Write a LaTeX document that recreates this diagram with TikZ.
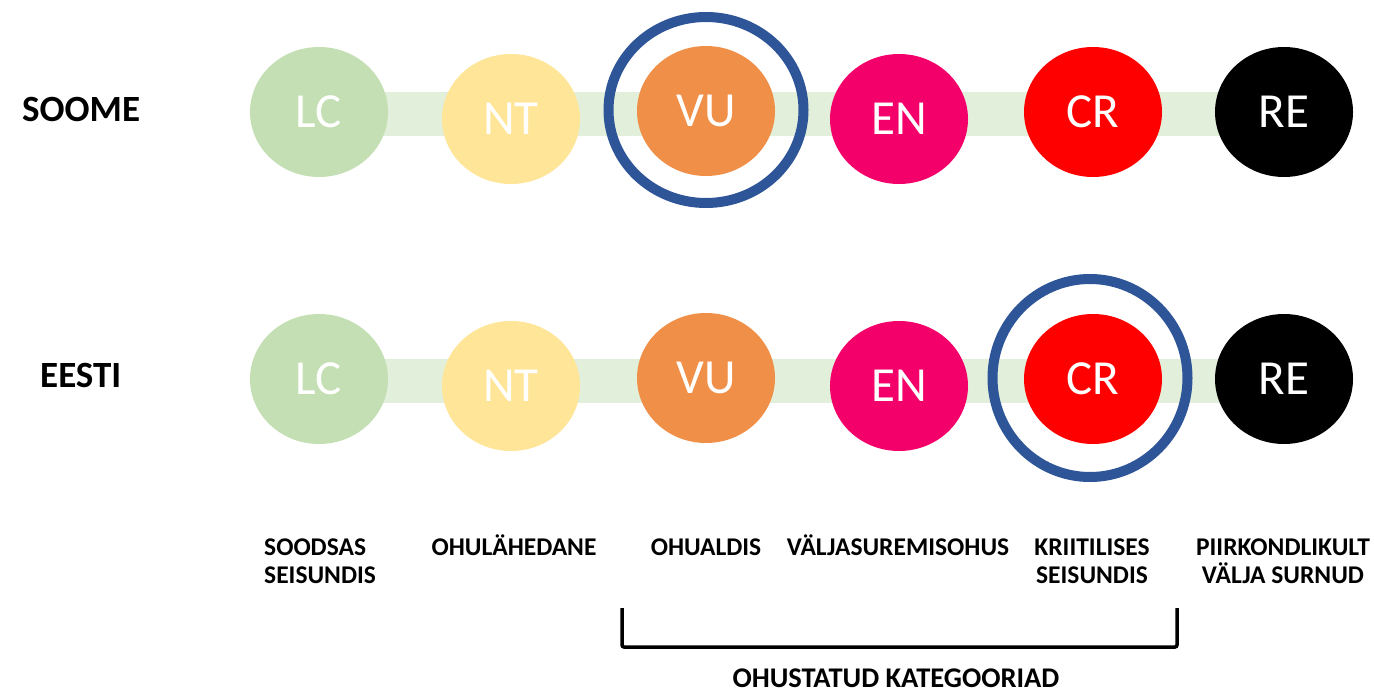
\documentclass[tikz,border=0pt]{standalone}
\usepackage{fontspec}
\setmainfont{Carlito}
\usetikzlibrary{shapes.geometric,backgrounds}
\definecolor{cLC}{HTML}{C4DFB3}
\definecolor{cNT}{HTML}{FFE598}
\definecolor{cVU}{HTML}{F08F48}
\definecolor{cEN}{HTML}{F4006A}
\definecolor{cCR}{HTML}{FF0000}
\definecolor{cRE}{HTML}{000000}
\definecolor{cBar}{HTML}{E2EFDA}
\definecolor{cRing}{HTML}{2E5597}
\tikzset{
  cat/.style={ellipse, fill=#1, minimum width=138pt, minimum height=130pt, inner sep=0pt,
    text=white, font=\fontsize{49}{50}\selectfont, text height=31.5pt, text depth=0pt},
  bar/.style={cBar, line width=44pt},
  ring/.style={ellipse, draw=cRing, line width=10pt, inner sep=0pt},
  title/.style={font=\fontsize{37}{40}\selectfont\bfseries, anchor=base west, inner sep=0pt},
  lbl/.style={font=\fontsize{25.5}{28}\selectfont\bfseries, inner sep=0pt, align=center},
  bracket/.style={line width=3.5pt, rounded corners=2pt},
}
\begin{document}
\begin{tikzpicture}[x=1pt,y=-1pt]
\useasboundingbox (0,0) rectangle (1374,692);
% titles
\node[title] (soome) at (22,122) {SOOME};
\node[title] (eesti) at (40,388) {EESTI};
% row 1
\node[cat=cLC] (s1) at (319,112) {LC};
\node[cat=cNT] (s2) at (511,119) {NT};
\node[cat=cVU] (s3) at (706,111) {VU};
\node[cat=cEN] (s4) at (899,119) {EN};
\node[cat=cCR] (s5) at (1093,112) {CR};
\node[cat=cRE] (s6) at (1284,112) {RE};
% row 2
\node[cat=cLC] (e1) at (319,379) {LC};
\node[cat=cNT] (e2) at (511,386) {NT};
\node[cat=cVU] (e3) at (706,378) {VU};
\node[cat=cEN] (e4) at (899,386) {EN};
\node[cat=cCR] (e5) at (1093,379) {CR};
\node[cat=cRE] (e6) at (1284,379) {RE};
% bars
\begin{scope}[on background layer]
\draw[bar] ([yshift=-2pt]s1.center) -- ([yshift=-2pt]s6.center);
\draw[bar] ([yshift=-2pt]e1.center) -- ([yshift=-2pt]e6.center);
\end{scope}
% rings
\node[ring, minimum width=195pt, minimum height=186pt] (r1) at (706,110) {};
\node[ring, minimum width=195pt, minimum height=198pt] (r2) at (1090,378) {};
% bottom labels
\node[lbl, anchor=base west, align=left] (l1) at (264,583) {SOODSAS\\SEISUNDIS};
\node[lbl, anchor=base] (l2) at (514,555) {OHULÄHEDANE};
\node[lbl, anchor=base] (l3) at (706,555) {OHUALDIS};
\node[lbl, anchor=base] (l4) at (898,555) {VÄLJASUREMISOHUS};
\node[lbl, anchor=base] (l5) at (1092,583) {KRIITILISES\\SEISUNDIS};
\node[lbl, anchor=base] (l6) at (1283,583) {PIIRKONDLIKULT\\VÄLJA SURNUD};
% bracket
\coordinate (b1) at (622,608);
\coordinate (b2) at (622,647);
\coordinate (b3) at (1177,647);
\coordinate (b4) at (1177,608);
\draw[bracket] (b1) -- (b2) -- (b3) -- (b4);
\node[font=\fontsize{28.5}{30}\selectfont\bfseries, anchor=base, inner sep=0pt] (oh) at (896,687) {OHUSTATUD KATEGOORIAD};
\end{tikzpicture}
\end{document}
